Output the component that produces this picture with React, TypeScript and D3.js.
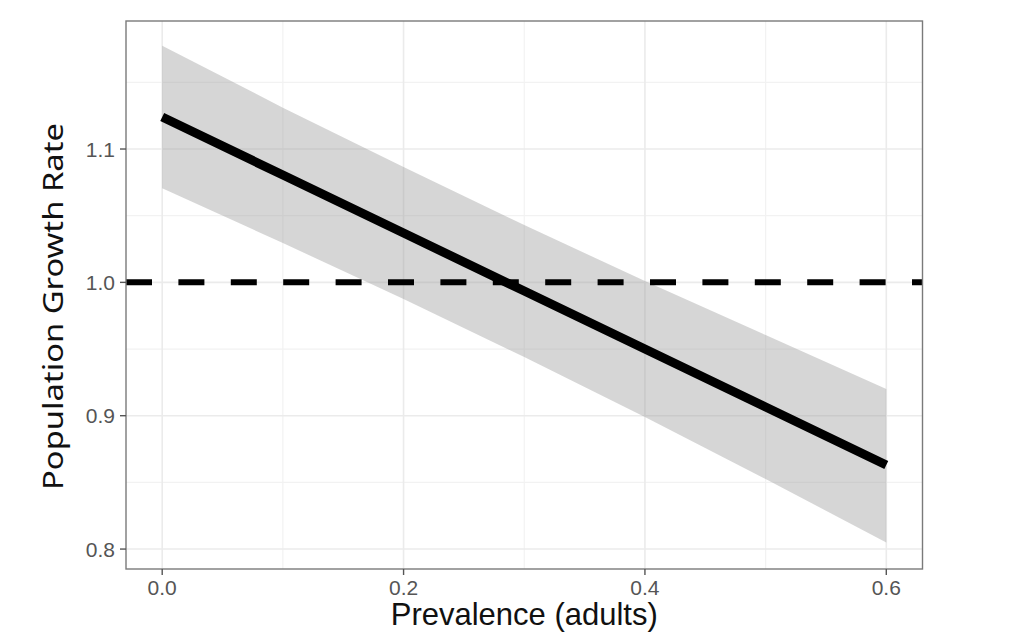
import React from "react";
import * as d3 from "d3";

const prevalence = [0, 0.1, 0.2, 0.3, 0.4, 0.5, 0.6];
const fitValues = [1.124, 1.0805, 1.037, 0.9935, 0.95, 0.9065, 0.863];
const upperValues = [1.1775, 1.131, 1.0865, 1.043, 1.001, 0.9605, 0.92];
const lowerValues = [1.0705, 1.0295, 0.9875, 0.944, 0.899, 0.8525, 0.805];
const xTicks = [0, 0.2, 0.4, 0.6];
const xMinor = [0.1, 0.3, 0.5];
const yTicks = [0.8, 0.9, 1.0, 1.1];
const yMinor = [0.85, 0.95, 1.05, 1.15];
const refLine = 1.0;
const xTitle = "Prevalence (adults)";
const yTitle = "Population Growth Rate";

const W = 1024;
const H = 640;
const panel = { left: 126, right: 922.5, top: 21, bottom: 569 };

export default function App() {
  const x = d3.scaleLinear().domain([-0.03, 0.63]).range([panel.left, panel.right]);
  const y = d3.scaleLinear().domain([0.78505, 1.196]).range([panel.bottom, panel.top]);

  const rows = prevalence.map((p, i) => ({ p, fit: fitValues[i], lo: lowerValues[i], hi: upperValues[i] }));
  const area = d3
    .area<(typeof rows)[number]>()
    .x((d) => x(d.p))
    .y0((d) => y(d.lo))
    .y1((d) => y(d.hi));
  const line = d3
    .line<(typeof rows)[number]>()
    .x((d) => x(d.p))
    .y((d) => y(d.fit));

  const font = "'Liberation Sans', Arial, Helvetica, sans-serif";
  const gridColor = "#ebebeb";
  const minorColor = "#f2f2f2";

  return (
    <svg
      width={W}
      height={H}
      style={{ position: "absolute", left: 0, top: 0, background: "#fff" }}
      fontFamily={font}
    >
      <rect x={0} y={0} width={W} height={H} fill="#fff" />
      {xMinor.map((v) => (
        <line key={"xm" + v} x1={x(v)} x2={x(v)} y1={panel.top} y2={panel.bottom} stroke={minorColor} strokeWidth={1.2} />
      ))}
      {yMinor.map((v) => (
        <line key={"ym" + v} x1={panel.left} x2={panel.right} y1={y(v)} y2={y(v)} stroke={minorColor} strokeWidth={1.2} />
      ))}
      {xTicks.map((v) => (
        <line key={"xg" + v} x1={x(v)} x2={x(v)} y1={panel.top} y2={panel.bottom} stroke={gridColor} strokeWidth={1.6} />
      ))}
      {yTicks.map((v) => (
        <line key={"yg" + v} x1={panel.left} x2={panel.right} y1={y(v)} y2={y(v)} stroke={gridColor} strokeWidth={1.6} />
      ))}
      <path d={area(rows) || ""} fill="#999999" fillOpacity={0.4} />
      <line
        x1={panel.left}
        x2={panel.right}
        y1={y(refLine)}
        y2={y(refLine)}
        stroke="#000"
        strokeWidth={6}
        strokeDasharray="26 26.4"
      />
      <path d={line(rows) || ""} fill="none" stroke="#000" strokeWidth={9} strokeLinecap="butt" />
      <rect
        x={panel.left}
        y={panel.top}
        width={panel.right - panel.left}
        height={panel.bottom - panel.top}
        fill="none"
        stroke="#7a7a7a"
        strokeWidth={1.4}
      />
      {xTicks.map((v) => (
        <g key={"xt" + v}>
          <line x1={x(v)} x2={x(v)} y1={panel.bottom} y2={panel.bottom + 6} stroke="#555" strokeWidth={1.4} />
          <text x={x(v)} y={594.5} textAnchor="middle" fontSize={21} fill="#555">
            {d3.format(".1f")(v)}
          </text>
        </g>
      ))}
      {yTicks.map((v) => (
        <g key={"yt" + v}>
          <line x1={panel.left - 6} x2={panel.left} y1={y(v)} y2={y(v)} stroke="#555" strokeWidth={1.4} />
          <text x={115} y={y(v)} dy="0.36em" textAnchor="end" fontSize={21} fill="#555">
            {d3.format(".1f")(v)}
          </text>
        </g>
      ))}
      <text
        x={(panel.left + panel.right) / 2}
        y={625}
        textAnchor="middle"
        fontSize={30.5}
        fill="#111"
        textLength={267}
        lengthAdjust="spacingAndGlyphs"
      >
        {xTitle}
      </text>
      <text
        transform={`translate(63, 306.5) rotate(-90)`}
        textAnchor="middle"
        fontSize={28}
        fontFamily="'Noto Sans', 'Open Sans', sans-serif"
        fill="#111"
        textLength={367}
        lengthAdjust="spacingAndGlyphs"
      >
        {yTitle}
      </text>
    </svg>
  );
}
